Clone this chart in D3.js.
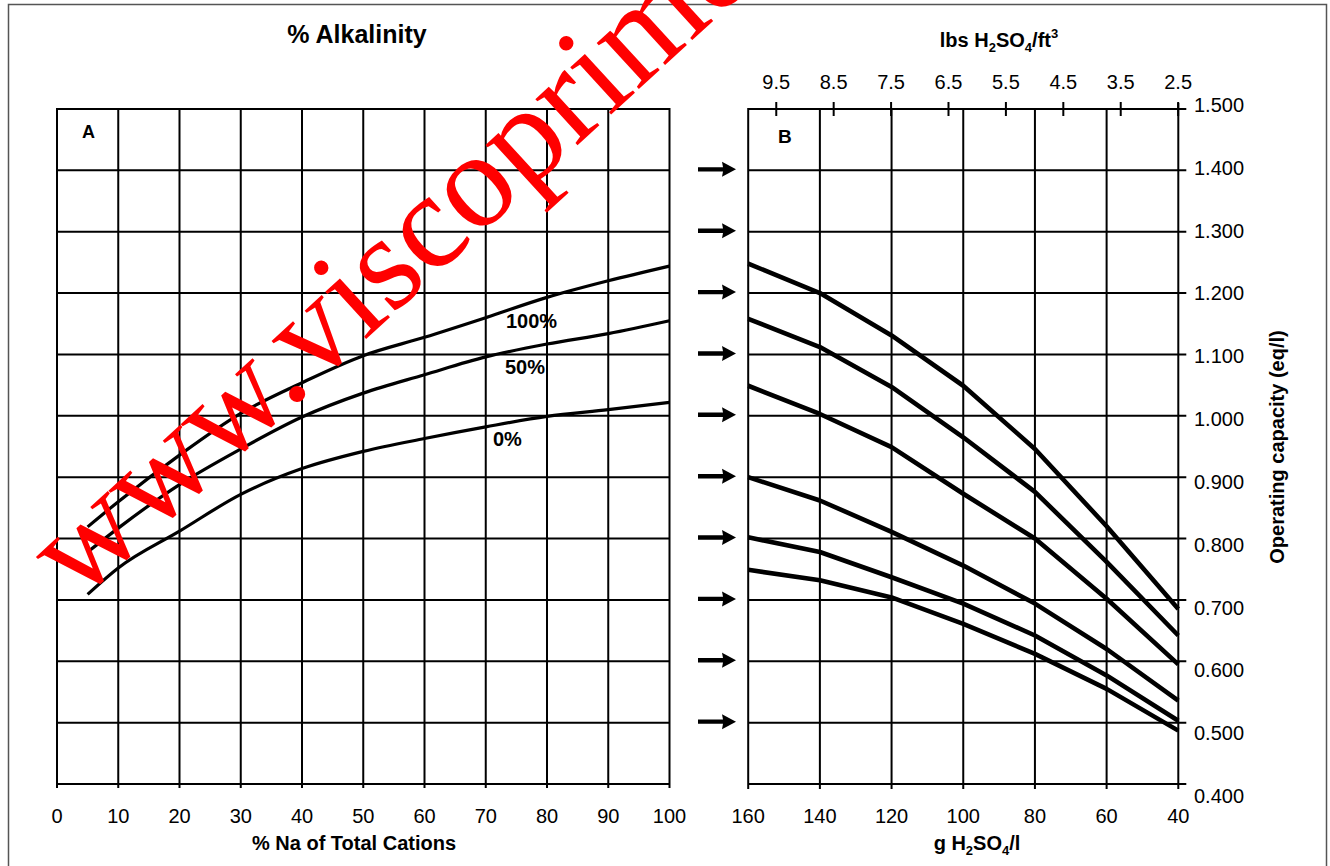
<!DOCTYPE html>
<html>
<head>
<meta charset="utf-8">
<script src="https://cdn.jsdelivr.net/npm/d3@7"></script>
<style>
  html, body { margin: 0; padding: 0; background: #fff; }
  svg { display: block; font-family: "Liberation Sans", Arial, Helvetica, sans-serif; }
</style>
</head>
<body>
<div id="chart"></div>
<script>
// Panel A: capacity vs % Na of total cations, one curve per % alkalinity
const naPct = [5, 10, 20, 30, 40, 50, 60, 70, 80, 90, 100]
const alk100 = [0.819, 0.860, 0.936, 1.004, 1.054, 1.098, 1.128, 1.160, 1.193, 1.220, 1.244]
const alk50 = [0.778, 0.817, 0.888, 0.946, 0.998, 1.037, 1.067, 1.096, 1.117, 1.134, 1.155]
const alk0 = [0.709, 0.752, 0.812, 0.872, 0.914, 0.942, 0.963, 0.982, 0.999, 1.010, 1.022]
const alkLabels = ["100%", "50%", "0%"]

// Panel B: operating capacity vs regenerant level, one curve per starting capacity
const acidGL = [160, 140, 120, 100, 80, 60, 40]
const cap1 = [1.248, 1.200, 1.131, 1.049, 0.946, 0.820, 0.685]
const cap2 = [1.158, 1.112, 1.047, 0.965, 0.876, 0.762, 0.642]
const cap3 = [1.049, 1.003, 0.949, 0.873, 0.800, 0.702, 0.595]
const cap4 = [0.900, 0.862, 0.811, 0.756, 0.694, 0.620, 0.536]
const cap5 = [0.802, 0.778, 0.737, 0.694, 0.642, 0.577, 0.503]
const cap6 = [0.749, 0.732, 0.704, 0.661, 0.612, 0.555, 0.487]

// tick labels
const naTicks = [0, 10, 20, 30, 40, 50, 60, 70, 80, 90, 100]
const acidTicks = [160, 140, 120, 100, 80, 60, 40]
const lbsTicks = [9.5, 8.5, 7.5, 6.5, 5.5, 4.5, 3.5, 2.5]
const capTicks = [0.4, 0.5, 0.6, 0.7, 0.8, 0.9, 1.0, 1.1, 1.2, 1.3, 1.4, 1.5]
const arrowLevels = [1.4, 1.3, 1.2, 1.1, 1.0, 0.9, 0.8, 0.7, 0.6, 0.5]
const LBS_FT3_TO_G_L = 16.018

const width = 1330
const height = 866

const svg = d3.select("#chart")
    .append("svg")
    .attr("width", width)
    .attr("height", height)

// outer frame
svg.append("rect")
    .attr("x", 8.5).attr("y", 4.5)
    .attr("width", 1318).attr("height", 880)
    .attr("fill", "none")
    .attr("stroke", "#555")
    .attr("stroke-width", 1.5)

const y = d3.scaleLinear().domain([0.4, 1.5]).range([784, 109])
const xA = d3.scaleLinear().domain([0, 100]).range([57, 669.5])
const xB = d3.scaleLinear().domain([160, 40]).range([748.2, 1178.3])
// the right-hand labels drift a little from their ticks in the original
const yLabel = d3.scaleLinear().domain([0.4, 1.5]).range([803, 112])

// ---------- panel A ----------
const gA = svg.append("g")

gA.selectAll(".hA")
    .data(capTicks)
    .join("line")
    .attr("x1", xA(0)).attr("x2", xA(100))
    .attr("y1", d => y(d)).attr("y2", d => y(d))
    .attr("stroke", "#000").attr("stroke-width", 2)

gA.selectAll(".vA")
    .data(naTicks)
    .join("line")
    .attr("x1", d => xA(d)).attr("x2", d => xA(d))
    .attr("y1", y(1.5) - 1).attr("y2", y(0.4) + 4)
    .attr("stroke", "#000").attr("stroke-width", 2)

gA.selectAll(".tA")
    .data(naTicks)
    .join("text")
    .attr("x", d => xA(d))
    .attr("y", 823)
    .attr("text-anchor", "middle")
    .style("font-size", "20px")
    .text(d => d)

const lineA = d3.line()
    .x((d, i) => xA(naPct[i]))
    .y(d => y(d))
    .curve(d3.curveMonotoneX)

gA.selectAll(".curveA")
    .data([alk100, alk50, alk0])
    .join("path")
    .attr("d", d => lineA(d))
    .attr("fill", "none")
    .attr("stroke", "#000")
    .attr("stroke-width", 3.2)

const alkLabelPos = [[506, 328], [505, 374], [493, 446]]
gA.selectAll(".lblA")
    .data(alkLabels)
    .join("text")
    .attr("x", (d, i) => alkLabelPos[i][0])
    .attr("y", (d, i) => alkLabelPos[i][1])
    .style("font-size", "20px")
    .style("font-weight", "bold")
    .text(d => d)

gA.append("text")
    .attr("x", 82).attr("y", 138)
    .style("font-size", "18px").style("font-weight", "bold")
    .text("A")

svg.append("text")
    .attr("x", 357).attr("y", 43)
    .attr("text-anchor", "middle")
    .style("font-size", "25px").style("font-weight", "bold")
    .text("% Alkalinity")

svg.append("text")
    .attr("x", 354).attr("y", 850)
    .attr("text-anchor", "middle")
    .style("font-size", "20px").style("font-weight", "bold")
    .text("% Na of Total Cations")

// ---------- arrows between the panels ----------
svg.selectAll(".arrow")
    .data(arrowLevels)
    .join("path")
    .attr("transform", d => `translate(698,${y(d) - 1})`)
    .attr("d", "M0,-2.2 L25,-2.2 L24,-7.5 L38,0 L24,7.5 L25,2.2 L0,2.2 Z")
    .attr("fill", "#000")

// ---------- panel B ----------
const gB = svg.append("g")

gB.selectAll(".hB")
    .data(capTicks)
    .join("line")
    .attr("x1", xB(160)).attr("x2", xB(40) + 8)
    .attr("y1", d => y(d)).attr("y2", d => y(d))
    .attr("stroke", "#000").attr("stroke-width", 2)

gB.selectAll(".vB")
    .data(acidTicks)
    .join("line")
    .attr("x1", d => xB(d)).attr("x2", d => xB(d))
    .attr("y1", d => d === 40 ? y(1.5) - 6 : y(1.5) - 1)
    .attr("y2", y(0.4) + 5)
    .attr("stroke", "#000").attr("stroke-width", 2)

gB.selectAll(".tB")
    .data(acidTicks)
    .join("text")
    .attr("x", d => xB(d))
    .attr("y", 823)
    .attr("text-anchor", "middle")
    .style("font-size", "20px")
    .text(d => d)

gB.selectAll(".capLbl")
    .data(capTicks)
    .join("text")
    .attr("x", 1194)
    .attr("y", d => yLabel(d))
    .style("font-size", "20px")
    .text(d => d3.format(".3f")(d))

// secondary top axis in lbs/ft3
gB.selectAll(".lbsTick")
    .data(lbsTicks)
    .join("line")
    .attr("x1", d => xB(d * LBS_FT3_TO_G_L)).attr("x2", d => xB(d * LBS_FT3_TO_G_L))
    .attr("y1", y(1.5) - 7).attr("y2", y(1.5) + 7)
    .attr("stroke", "#000").attr("stroke-width", 2)

gB.selectAll(".lbsLbl")
    .data(lbsTicks)
    .join("text")
    .attr("x", d => xB(d * LBS_FT3_TO_G_L))
    .attr("y", 89)
    .attr("text-anchor", "middle")
    .style("font-size", "20px")
    .text(d => d3.format(".1f")(d))

const lineB = d3.line()
    .x((d, i) => xB(acidGL[i]))
    .y(d => y(d))

gB.selectAll(".curveB")
    .data([cap1, cap2, cap3, cap4, cap5, cap6])
    .join("path")
    .attr("d", d => lineB(d))
    .attr("fill", "none")
    .attr("stroke", "#000")
    .attr("stroke-width", 4.6)
    .attr("stroke-linejoin", "round")

gB.append("text")
    .attr("x", 778).attr("y", 143)
    .style("font-size", "19px").style("font-weight", "bold")
    .text("B")

// titles with sub/superscripts
function chem(sel, parts) {
    parts.forEach(([txt, kind]) => {
        const t = sel.append("tspan").text(txt)
        if (kind === "sub") t.style("font-size", "13px").attr("dy", 5)
        else if (kind === "sup") t.style("font-size", "13px").attr("dy", -9)
        else if (kind === "back") t.attr("dy", -5)
    })
}

const topTitle = svg.append("text")
    .attr("x", 999).attr("y", 47)
    .attr("text-anchor", "middle")
    .style("font-size", "20px").style("font-weight", "bold")
chem(topTitle, [["lbs H"], ["2", "sub"], ["SO", "back"], ["4", "sub"], ["/ft", "back"], ["3", "sup"]])

const botTitle = svg.append("text")
    .attr("x", 977).attr("y", 850)
    .attr("text-anchor", "middle")
    .style("font-size", "20px").style("font-weight", "bold")
chem(botTitle, [["g H"], ["2", "sub"], ["SO", "back"], ["4", "sub"], ["/l", "back"]])

svg.append("text")
    .attr("transform", "translate(1284,447) rotate(-90)")
    .attr("text-anchor", "middle")
    .style("font-size", "20px").style("font-weight", "bold")
    .text("Operating capacity (eq/l)")

// ---------- watermark ----------
svg.append("text")
    .attr("transform", "translate(78,603) rotate(-42.5)")
    .style("font-family", "'Liberation Serif', 'Times New Roman', serif")
    .style("font-size", "136px")
    .attr("fill", "#ff0000")
    .text("www.viscoprime.com")
</script>
</body>
</html>
